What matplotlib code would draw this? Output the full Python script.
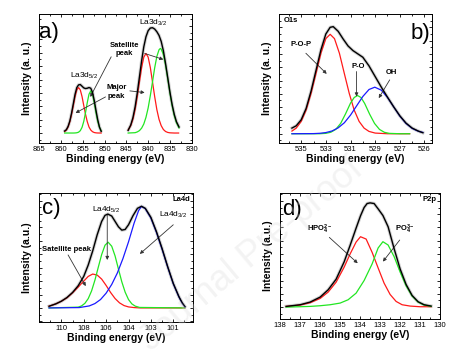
import matplotlib
matplotlib.use("Agg")
import matplotlib.pyplot as plt
from matplotlib.ticker import MultipleLocator, FixedLocator, FixedFormatter

plt.rcParams['font.family'] = ['Liberation Sans', 'DejaVu Sans']
plt.rcParams['mathtext.fontset'] = 'custom'
plt.rcParams['mathtext.rm'] = 'Liberation Sans'
plt.rcParams['mathtext.bf'] = 'Liberation Sans:bold'
plt.rcParams['mathtext.it'] = 'Liberation Sans:italic'

# ---------------- Panel a: La3d ----------------
a_red1_x = [859.2, 858.8, 858.4, 858.0, 857.6, 857.2, 856.8, 856.4, 856.0, 855.6, 855.2, 854.8, 854.4,
            854.0, 853.6, 853.2, 852.8, 852.4, 852.0, 851.6, 851.2, 850.8]
a_red1_y = [4, 9, 18, 34, 56, 82, 109, 129, 136, 129, 109, 82, 56, 34, 18, 9, 4, 1.5, 0.5, 0.1, 0, 0]
a_green1_x = [859.2, 857.2, 856.8, 856.4, 856.0, 855.6, 855.2, 854.8, 854.4, 854.0, 853.6, 853.2,
              852.8, 852.4, 852.0, 851.6, 851.2, 850.8]
a_green1_y = [0, 0, 0.2, 0.8, 2.5, 7, 17, 35, 61, 91, 116, 126, 116, 91, 61, 35, 17, 7]
a_black1_x = [859.2, 858.8, 858.4, 858.0, 857.6, 857.2, 856.8, 856.4, 856.0, 855.6, 855.2, 854.8, 854.4,
              854.0, 853.6, 853.2, 852.8, 852.4, 852.0, 851.6, 851.2, 850.8]
a_black1_y = [6, 10, 20, 36, 60, 88, 116, 136, 144, 145, 140, 135, 133, 134, 136, 134, 122, 98, 68, 40, 18, 5]

a_red2_x = [844.6, 844.0, 843.5, 843.0, 842.5, 842.0, 841.5, 841.0, 840.5, 840.0, 839.5, 839.0, 838.5,
            838.0, 837.5, 837.0, 836.5, 836.0, 835.5, 835.0, 834.0, 833.0]
a_red2_y = [9, 22, 41, 70, 109, 153, 196, 227, 238, 227, 196, 153, 109, 70, 41, 22, 10.5, 4.6, 1.8, 0.6, 0, 0]
a_green2_x = [844.6, 843.0, 842.5, 842.0, 841.5, 841.0, 840.5, 840.0, 839.5, 839.0, 838.5, 838.0, 837.5,
              837.2, 837.0, 836.5, 836.0, 835.5, 835.0, 834.5, 834.0, 833.5, 832.9]
a_green2_y = [0, 1, 3.3, 7.2, 14.6, 27, 47, 75, 112, 153, 195, 229, 249, 253, 251, 235, 203, 162, 120, 82,
              52, 31, 15]
a_black2_x = [844.6, 844.0, 843.5, 843.0, 842.5, 842.0, 841.5, 841.0, 840.5, 840.0, 839.5, 839.0, 838.5,
              838.0, 837.5, 837.0, 836.5, 836.0, 835.5, 835.0, 834.5, 834.0, 833.5, 832.9]
a_black2_y = [8, 24, 46, 78, 120, 168, 216, 258, 288, 306, 314, 315, 311, 303, 292, 274, 246, 208, 166, 123,
              86, 56, 34, 18]
a_xticks = [865, 860, 855, 850, 845, 840, 835, 830]

# ---------------- Panel b: O1s ----------------
b_red_x = [535.75, 535.4, 535.0, 534.6, 534.2, 533.8, 533.4, 533.0, 532.65, 532.3, 531.9, 531.5, 531.1,
           530.7, 530.3, 529.9, 529.5, 529.0, 528.0, 527.0, 526.2]
b_red_y = [8, 17, 37, 71, 121, 181, 242, 286, 299, 286, 242, 181, 121, 71, 37, 17, 7, 2, 0, 0, 0]
b_green_x = [535.75, 533.5, 533.0, 532.6, 532.2, 531.8, 531.4, 531.0, 530.7, 530.43, 530.15, 529.85,
             529.45, 529.05, 528.65, 528.25, 527.85, 527.0, 526.2]
b_green_y = [0, 0, 1.2, 4.4, 13, 31, 60, 92, 109, 115, 109, 91, 59, 31, 13, 4.3, 1.1, 0, 0]
b_blue_x = [535.75, 534.0, 533.5, 533.0, 532.5, 532.0, 531.5, 531.0, 530.5, 530.0, 529.5, 529.03, 528.5,
            528.0, 527.5, 527.0, 526.5, 526.0, 525.5, 525.13]
b_blue_y = [0, 0.4, 1.3, 3.5, 8.3, 17.7, 33, 56, 84, 112, 133, 140, 131, 109, 81, 53, 31, 16, 7.5, 3.9]
b_black_x = [535.75, 535.4, 535.0, 534.6, 534.2, 533.8, 533.4, 533.0, 532.65, 532.4, 532.0, 531.6, 531.2,
             530.8, 530.4, 530.0, 529.5, 529.0, 528.5, 528.0, 527.5, 527.0, 526.5, 526.0, 525.5, 525.13]
b_black_y = [17, 24, 42, 76, 128, 190, 252, 300, 320, 322, 308, 285, 264, 250, 240, 230, 204, 172, 140,
             110, 81, 54, 32, 17, 8, 3]
b_tick_pos = [535, 533, 531, 529, 527, 525]
b_tick_lab = ['535', '533', '531', '529', '527', '526']

# ---------------- Panel c: La4d ----------------
c_red_x = [111.1, 110.5, 110.0, 109.5, 109.0, 108.5, 108.0, 107.6, 107.2, 106.8, 106.4, 106.0, 105.6,
           105.2, 104.8, 104.4, 104.0, 103.5, 103.0, 98.96]
c_red_y = [5, 12, 20, 30, 45, 62, 80, 94, 101, 98, 86, 67, 46, 28, 15, 7, 3, 1, 0, 0]
c_green_x = [111.1, 108.5, 108.2, 107.9, 107.6, 107.3, 107.0, 106.7, 106.4, 106.1, 105.82, 105.5, 105.2,
             104.9, 104.6, 104.3, 104.0, 103.7, 103.4, 103.0, 98.96]
c_green_y = [0, 2.3, 5.9, 13.6, 27.7, 50.7, 83, 121.5, 159, 187, 196, 184, 155, 116, 78, 47, 25, 12, 5.3,
             1.4, 0]
c_blue_x = [111.1, 108.4, 107.5, 107.0, 106.5, 106.0, 105.5, 105.0, 104.5, 104.0, 103.5, 103.1, 102.84,
            102.5, 102.0, 101.5, 101.0, 100.5, 100.0, 99.5, 99.2, 98.96]
c_blue_y = [0, 1, 6, 13, 25, 44, 70, 104, 147, 197, 253, 290, 303, 296, 268, 225, 175, 122, 72, 33, 14, 3]
c_black_x = [111.1, 110.5, 110.0, 109.5, 109.0, 108.5, 108.0, 107.6, 107.2, 106.8, 106.4, 106.1, 105.85,
             105.5, 105.2, 104.9, 104.6, 104.3, 104.0, 103.6, 103.2, 102.84, 102.5, 102.0, 101.5, 101.0,
             100.5, 100.0, 99.5, 99.2, 98.96]
c_black_y = [5, 12, 20, 31, 46, 66, 94, 128, 170, 218, 258, 276, 280, 274, 258, 242, 232, 234, 248, 275,
             297, 303, 297, 270, 227, 177, 123, 73, 34, 15, 4]
c_tick_pos = [110, 108, 106, 104, 102, 100]
c_tick_lab = ['110', '108', '106', '104', '103', '101']

# ---------------- Panel d: P2p ----------------
d_red_x = [137.7, 137.0, 136.5, 136.0, 135.6, 135.2, 134.8, 134.5, 134.2, 133.98, 133.7, 133.4, 133.1,
           132.8, 132.5, 132.2, 131.9, 131.5, 131.0, 130.45]
d_red_y = [2, 6, 13, 26, 45, 75, 120, 160, 196, 212, 205, 165, 118, 72, 38, 17, 7, 3, 1, 1]
d_green_x = [137.7, 137.0, 136.5, 136.0, 135.5, 135.0, 134.6, 134.2, 133.8, 133.4, 133.1, 132.86, 132.6,
             132.3, 132.0, 131.7, 131.4, 131.1, 130.8, 130.45]
d_green_y = [0, 1, 2, 4, 7, 12, 22, 42, 80, 130, 178, 197, 187, 152, 106, 64, 33, 15, 6, 2]
d_black_x = [137.7, 137.0, 136.5, 136.0, 135.6, 135.2, 134.8, 134.5, 134.2, 133.98, 133.8, 133.65, 133.5,
             133.3, 133.1, 132.86, 132.6, 132.3, 132.0, 131.7, 131.4, 131.1, 130.8, 130.45]
d_black_y = [2, 7, 15, 30, 52, 84, 136, 186, 238, 275, 300, 312, 314, 312, 296, 276, 242, 176, 115, 68,
             35, 16, 7, 3]
d_xticks = [138, 137, 136, 135, 134, 133, 132, 131, 130]

RED, GREEN, BLUE, GREY = '#ff1a1a', '#22e622', '#1a1aff', '#d2d2d2'
TICK_FS = 5.5
LAB_FS = 7.5

fig = plt.figure(figsize=(4.57, 3.64), dpi=100)
ax_a = fig.add_axes([0.0853, 0.607, 0.335, 0.3545])
ax_b = fig.add_axes([0.6105, 0.607, 0.3345, 0.3545])
ax_c = fig.add_axes([0.0853, 0.1154, 0.3367, 0.3546])
ax_d = fig.add_axes([0.613, 0.1236, 0.35, 0.3464])


def style(ax, ylabel):
    ax.tick_params(which='both', direction='in', top=True, right=True, labelsize=TICK_FS,
                   width=0.6, pad=2)
    ax.tick_params(which='major', length=2.5)
    ax.tick_params(which='minor', length=1.5)
    ax.tick_params(axis='y', labelleft=False)
    for s in ax.spines.values():
        s.set_linewidth(0.7)
    ax.set_xlabel('Binding energy (eV)', fontsize=LAB_FS, fontweight='bold', labelpad=1)
    ax.set_ylabel(ylabel, fontsize=7.5, fontweight='bold', labelpad=3)


def curve(ax, x, y, color, lw=0.9, z=3):
    ax.plot(x, y, color=color, lw=lw, zorder=z)


arrow = dict(arrowstyle='-|>', color='#333333', lw=0.6, mutation_scale=5, shrinkA=0, shrinkB=0)

# ---- a
ax = ax_a
for bx, by in ((a_black1_x, a_black1_y), (a_black2_x, a_black2_y)):
    ax.plot(bx, by, color=GREY, lw=2.4, zorder=2, solid_capstyle='round')
curve(ax, a_red1_x, a_red1_y, RED)
curve(ax, a_green1_x, a_green1_y, GREEN)
curve(ax, a_red2_x, a_red2_y, RED)
curve(ax, a_green2_x, a_green2_y, GREEN)
curve(ax, a_black1_x, a_black1_y, 'black', 1.0, 4)
curve(ax, a_black2_x, a_black2_y, 'black', 1.0, 4)
ax.set_xlim(865.1, 829.9)
ax.set_ylim(-30, 356)
ax.xaxis.set_major_locator(FixedLocator(a_xticks))
ax.xaxis.set_minor_locator(MultipleLocator(2.5))
ax.yaxis.set_major_locator(MultipleLocator(40))
ax.yaxis.set_minor_locator(MultipleLocator(20))
style(ax, 'Intensity (a. u.)')
ax.text(0.0, 0.86, 'a)', transform=ax.transAxes, fontsize=16, va='center', ha='left')
ax.text(838.8, 330, r'La3d$_{3/2}$', fontsize=6, ha='center', va='center')
ax.text(854.6, 170, r'La3d$_{5/2}$', fontsize=6, ha='center', va='center')
ax.text(845.4, 250, 'Satellite\npeak', fontsize=5.5, fontweight='bold', ha='center', va='center',
        linespacing=1.3)
ax.text(847.3, 123, 'Major\npeak', fontsize=5.5, fontweight='bold', ha='center', va='center',
        linespacing=1.3)
ax.annotate('', xy=(836.5, 220), xytext=(840.8, 238), arrowprops=arrow)
ax.annotate('', xy=(853.3, 108), xytext=(848.5, 228), arrowprops=arrow)
ax.annotate('', xy=(840.8, 121), xytext=(844.2, 126), arrowprops=arrow)
ax.annotate('', xy=(856.7, 60), xytext=(849.8, 108), arrowprops=arrow)

# ---- b
ax = ax_b
ax.plot(b_black_x, b_black_y, color=GREY, lw=2.4, zorder=2)
curve(ax, b_red_x, b_red_y, RED)
curve(ax, b_green_x, b_green_y, GREEN)
curve(ax, b_blue_x, b_blue_y, BLUE)
curve(ax, b_black_x, b_black_y, 'black', 1.0, 4)
ax.set_xlim(536.8, 524.4)
ax.set_ylim(-28, 360)
ax.xaxis.set_major_locator(FixedLocator(b_tick_pos))
ax.xaxis.set_major_formatter(FixedFormatter(b_tick_lab))
ax.xaxis.set_minor_locator(MultipleLocator(1))
ax.yaxis.set_major_locator(MultipleLocator(40))
ax.yaxis.set_minor_locator(MultipleLocator(20))
style(ax, 'Intensity (a. u.)')
ax.text(0.03, 0.95, 'O1s', transform=ax.transAxes, fontsize=5.5, fontweight='bold', va='center')
ax.text(0.99, 0.85, 'b)', transform=ax.transAxes, fontsize=16, va='center', ha='right')
ax.text(535.05, 267, 'P-O-P', fontsize=5.5, fontweight='bold', ha='center', va='center')
ax.text(530.38, 202, 'P-O', fontsize=5.5, fontweight='bold', ha='center', va='center')
ax.text(527.69, 184, 'OH', fontsize=5.5, fontweight='bold', ha='center', va='center')
ax.annotate('', xy=(532.93, 180), xytext=(534.62, 242), arrowprops=arrow)
ax.annotate('', xy=(530.51, 112), xytext=(530.51, 187), arrowprops=arrow)
ax.annotate('', xy=(528.71, 107), xytext=(527.82, 162), arrowprops=arrow)

# ---- c
ax = ax_c
ax.plot(c_black_x, c_black_y, color=GREY, lw=2.4, zorder=2)
curve(ax, c_red_x, c_red_y, RED)
curve(ax, c_green_x, c_green_y, GREEN)
curve(ax, c_blue_x, c_blue_y, BLUE)
curve(ax, c_black_x, c_black_y, 'black', 1.0, 4)
ax.set_xlim(112.0, 98.25)
ax.set_ylim(-42, 343)
ax.xaxis.set_major_locator(FixedLocator(c_tick_pos))
ax.xaxis.set_major_formatter(FixedFormatter(c_tick_lab))
ax.xaxis.set_minor_locator(MultipleLocator(1))
ax.yaxis.set_major_locator(MultipleLocator(40))
ax.yaxis.set_minor_locator(MultipleLocator(20))
style(ax, 'Intensity (a.u.)')
ax.text(0.02, 0.88, 'c)', transform=ax.transAxes, fontsize=16, va='center', ha='left')
ax.text(0.985, 0.95, 'La4d', transform=ax.transAxes, fontsize=5.5, fontweight='bold', va='center',
        ha='right')
ax.text(105.97, 293, r'La4d$_{5/2}$', fontsize=6, ha='center', va='center')
ax.text(100.0, 278, r'La4d$_{3/2}$', fontsize=6, ha='center', va='center')
ax.text(109.58, 173, 'Satellite peak', fontsize=5.5, fontweight='bold', ha='center', va='center')
ax.annotate('', xy=(105.9, 143), xytext=(105.9, 278), arrowprops=arrow)
ax.annotate('', xy=(102.99, 161), xytext=(100.0, 248), arrowprops=arrow)
ax.annotate('', xy=(107.82, 65), xytext=(109.4, 158), arrowprops=arrow)

# ---- d
ax = ax_d
ax.plot(d_black_x, d_black_y, color=GREY, lw=2.4, zorder=2)
curve(ax, d_red_x, d_red_y, RED)
curve(ax, d_green_x, d_green_y, GREEN)
curve(ax, d_black_x, d_black_y, 'black', 1.0, 4)
ax.set_xlim(138, 130)
ax.set_ylim(-36, 344)
ax.xaxis.set_major_locator(FixedLocator(d_xticks))
ax.xaxis.set_minor_locator(MultipleLocator(0.5))
ax.yaxis.set_major_locator(MultipleLocator(40))
ax.yaxis.set_minor_locator(MultipleLocator(20))
style(ax, 'Intensity (a.u.)')
ax.text(0.01, 0.87, 'd)', transform=ax.transAxes, fontsize=16, va='center', ha='left')
ax.text(0.975, 0.95, 'P2p', transform=ax.transAxes, fontsize=5.5, fontweight='bold', va='center',
        ha='right')
ax.text(136.03, 235, r'HPO$_\mathbf{4}^\mathbf{2-}$', fontsize=5.5, fontweight='bold', ha='center',
        va='center')
ax.text(131.76, 235, r'PO$_\mathbf{4}^\mathbf{3-}$', fontsize=5.5, fontweight='bold', ha='center',
        va='center')
ax.annotate('', xy=(134.12, 132), xytext=(135.54, 210), arrowprops=arrow)
ax.annotate('', xy=(132.86, 137), xytext=(132.02, 202), arrowprops=arrow)

# watermark
fig.text(0.55, 0.30, 'Journal Pre-proof', rotation=40, fontsize=26, color='#d8d8d8', alpha=0.3,
         ha='center', va='center', zorder=10)

fig.savefig('out.png', dpi=100)
